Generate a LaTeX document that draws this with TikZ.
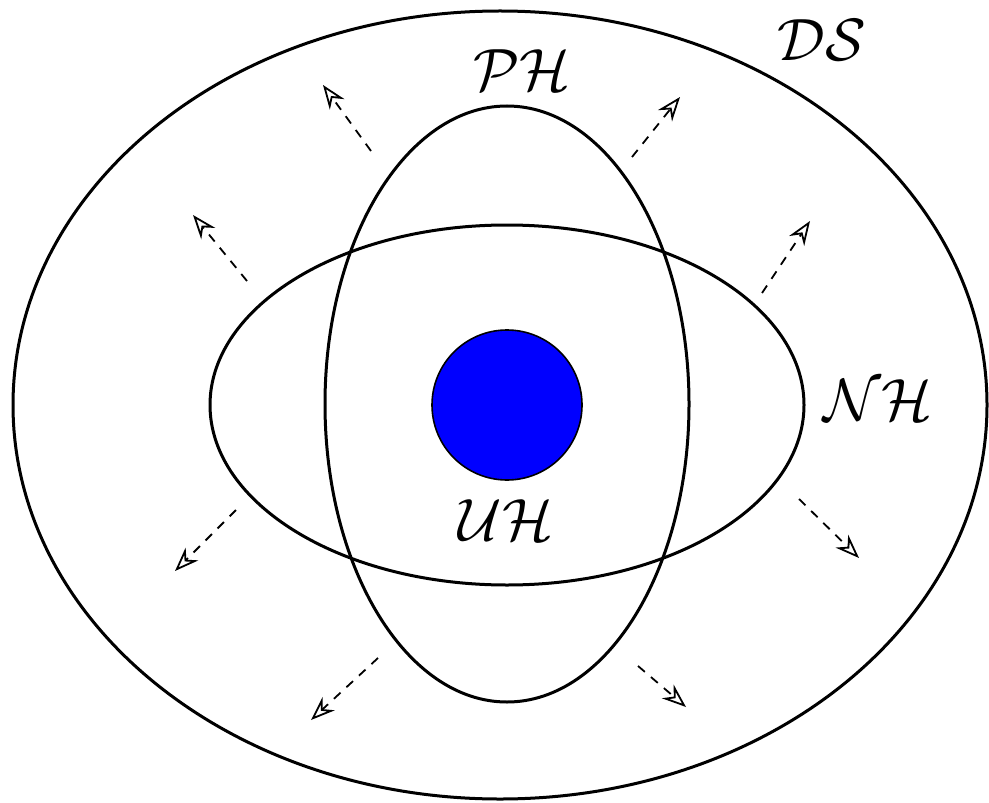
\documentclass[tikz,border=0pt]{standalone}
\usepackage{graphicx}
\usetikzlibrary{arrows.meta}
\newcommand{\setname}[1]{\scalebox{1.2}{\Huge$\mathcal{#1}$}}
\begin{document}
\begin{tikzpicture}[x=0.5pt,y=-0.5pt,
  setline/.style={line width=1.5pt},
  growarrow/.style={line width=0.9pt, dash pattern=on 4.5pt off 4pt, -{Stealth[open,length=12pt,width=9pt,inset=4pt]}},
  setlabel/.style={inner sep=0pt}]
\useasboundingbox (0,0) rectangle (989,802);
% outer set DS
\draw[setline] (500,405) ellipse [x radius=487, y radius=394];
% NH horizontal ellipse
\draw[setline] (507,405) ellipse [x radius=297, y radius=180];
% PH vertical ellipse
\draw[setline] (507,404) ellipse [x radius=182, y radius=298];
% UH disc
\draw[fill=blue, line width=0.8pt] (507,405) circle [radius=75];
% labels
\node[setlabel] (ds) at (822,40) {\setname{DS}};
\node[setlabel] (ph) at (522,70) {\setname{PH}};
\node[setlabel] (nh) at (878,400) {\setname{NH}};
\node[setlabel] (uh) at (506,520) {\setname{UH}};
% arrows
\coordinate (t1) at (371,151); \coordinate (h1) at (323,85);
\coordinate (t2) at (632,157); \coordinate (h2) at (680,97);
\coordinate (t3) at (247,281); \coordinate (h3) at (193,215);
\coordinate (t4) at (762,293); \coordinate (h4) at (810,221);
\coordinate (t5) at (236,510); \coordinate (h5) at (175,571);
\coordinate (t6) at (799,499); \coordinate (h6) at (859,558);
\coordinate (t7) at (378,658); \coordinate (h7) at (311,720);
\coordinate (t8) at (638,666); \coordinate (h8) at (686,707);
\foreach \i in {1,...,8} \draw[growarrow] (t\i) -- (h\i);
\end{tikzpicture}
\end{document}
